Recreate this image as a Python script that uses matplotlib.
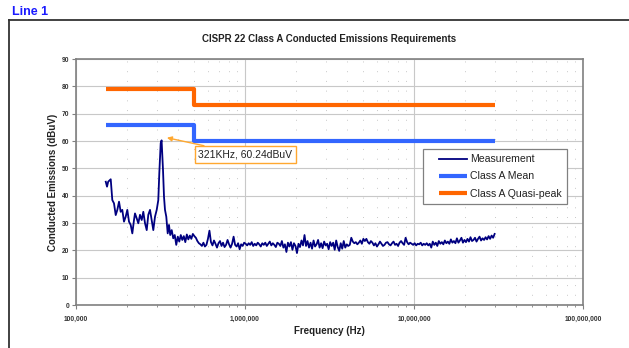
import matplotlib
matplotlib.use("Agg")
import matplotlib.pyplot as plt
import matplotlib.ticker as mticker
import matplotlib.lines as mlines
from matplotlib.legend_handler import HandlerLine2D
import numpy as np

plt.rcParams['font.family'] = ['Liberation Sans', 'DejaVu Sans']

# low band of the sweep (kHz, dBuV), around the 321 kHz peak
head_khz = [150, 152.6, 155, 160.5, 164, 167.8, 171.8, 175.6, 179.7, 183.8,
            187.9, 192.3, 196.8, 201.2, 205.9, 210.7, 215.4, 220.4, 223.4, 228.7,
            233.7, 239.2, 244.8, 250.2, 256.1, 262.1, 267.8, 274.1, 280.5, 286.7,
            293.4, 300.3, 306.9, 311.1, 317.1, 321, 327.2, 331.7, 336.2, 342.2,
            348.8, 355]
head_db = [45.1, 43.3, 45.1, 46.0, 38.4, 37.2, 32.9, 34.8, 37.8, 34.1,
           34.8, 30.5, 32.3, 34.8, 30.5, 29.3, 26.2, 31.1, 33.5, 31.7,
           29.9, 33.0, 31.1, 34.1, 29.9, 27.4, 33.0, 34.8, 31.1, 27.4,
           32.3, 34.8, 38.4, 48.2, 59.2, 60.24, 49.4, 39.6, 34.8, 32.3,
           26.2, 29.3]

# rest of the sweep, 361 kHz .. 30 MHz on a log grid
tail_start, tail_stop = 361e3, 30e6
tail_db = [
    25.6, 27.4, 24.4, 25.6, 22.0, 25.0, 23.2, 25.6, 23.8, 25.2,
    23.0, 25.8, 24.0, 25.4, 24.2, 26.0, 25.2, 24.6, 23.4, 22.6,
    22.2, 21.6, 22.8, 21.4, 22.0, 24.2, 27.2, 23.0, 21.8, 23.6,
    22.4, 21.0, 22.6, 23.4, 21.6, 22.8, 21.2, 22.0, 23.8, 22.2,
    21.0, 22.4, 25.0, 22.0, 21.4, 22.6, 20.4, 22.2, 21.6, 22.8,
    22.4, 21.8, 22.6, 22.0, 23.0, 21.6, 22.4, 21.8, 22.8, 22.2,
    21.4, 22.6, 22.0, 22.8, 21.6, 22.4, 23.2, 21.8, 22.6, 22.0,
    21.2, 22.8, 22.4, 21.6, 23.4, 21.0, 22.2, 19.4, 22.8, 21.4,
    23.0, 20.2, 22.6, 21.6, 19.0, 22.4, 21.2, 23.6, 21.8, 25.6,
    21.6, 23.4, 21.0, 22.8, 20.6, 23.6, 21.4, 22.2, 23.8, 21.0,
    22.6, 20.8, 23.2, 21.8, 22.4, 20.4, 23.0, 21.6, 22.8, 20.2,
    23.6, 21.2, 19.8, 22.6, 20.6, 23.4, 21.0, 22.2, 21.6, 22.0,
    24.6, 23.2, 22.6, 23.0, 22.2, 22.8, 23.6, 22.4, 24.2, 23.4,
    24.2, 23.0, 22.4, 23.4, 22.8, 21.8, 22.6, 21.4, 22.2, 23.2,
    22.4, 21.6, 22.0, 22.8, 23.0, 22.2, 21.8, 22.6, 23.2, 22.0,
    22.4, 21.6, 22.8, 23.4, 22.6, 22.0, 24.6, 23.0, 22.2, 22.8,
    22.4, 22.0, 22.6, 21.8, 22.4, 22.2, 22.8, 21.8, 22.4, 22.0,
    22.6, 21.8, 22.4, 21.0, 23.2, 22.0, 22.8, 21.6, 23.4, 22.4,
    23.0, 22.2, 23.6, 22.6, 23.2, 22.4, 24.0, 22.8, 23.4, 22.6,
    24.4, 22.8, 23.6, 24.6, 22.8, 23.8, 23.0, 24.2, 23.2, 24.8,
    23.4, 23.8, 24.6, 23.2, 24.2, 25.0, 23.6, 24.4, 23.8, 24.8,
    24.0, 25.2, 24.2, 25.4, 24.6, 26.0,
]

# CISPR 22 class A limits
limit_hz = [150e3, 500e3, 500e3, 30e6]
mean_limit = [66, 66, 60, 60]
qp_limit = [79, 79, 73, 73]

peak_hz, peak_db = 321e3, 60.24

meas_hz = np.concatenate([np.array(head_khz) * 1e3,
                          np.geomspace(tail_start, tail_stop, len(tail_db))])
meas_db = np.concatenate([head_db, tail_db])

fig = plt.figure(figsize=(6.29, 3.48), dpi=100)
fig.patch.set_facecolor('white')

# outer frame (top and left edges)
fig.add_artist(mlines.Line2D([9/629, 1.0], [1 - 20/348, 1 - 20/348],
                             transform=fig.transFigure, color='#333333', lw=1.3))
fig.add_artist(mlines.Line2D([9/629, 9/629], [1 - 20/348, 0.0],
                             transform=fig.transFigure, color='#333333', lw=1.3))
fig.text(12/629, 1 - 12/348, 'Line 1', color='#1a1aff', fontsize=9,
         fontweight='bold', ha='left', va='center')

ax = fig.add_axes([76/629, 43/348, 507/629, 246/348])

ax.plot(meas_hz, meas_db, color='#000080', lw=1.3, label='Measurement', zorder=3)
ax.plot(limit_hz, mean_limit, color='#3366ff', lw=3.0, label='Class A Mean',
        solid_capstyle='butt', zorder=2)
ax.plot(limit_hz, qp_limit, color='#ff6600', lw=3.0, label='Class A Quasi-peak',
        solid_capstyle='butt', zorder=2)

ax.set_xscale('log')
ax.set_xlim(1e5, 1e8)
ax.set_ylim(0, 90)
ax.set_yticks(range(0, 91, 10))
ax.xaxis.set_major_locator(mticker.LogLocator(base=10, numticks=5))
ax.xaxis.set_minor_locator(mticker.LogLocator(base=10, subs=range(2, 10), numticks=20))
ax.xaxis.set_major_formatter(mticker.FuncFormatter(lambda v, p: f'{v:,.0f}'))
ax.xaxis.set_minor_formatter(mticker.NullFormatter())

ax.grid(True, which='major', axis='both', color='#c8c8c8', lw=0.8)
ax.grid(True, which='minor', axis='x', color='#c8c8c8', lw=0.7, linestyle=(0, (1, 9)))
ax.set_axisbelow(True)

for s in ax.spines.values():
    s.set_color('#808080')
    s.set_linewidth(1.2)

ax.tick_params(axis='both', which='major', labelsize=4.8, labelcolor='#333333',
               color='#808080', length=3, width=0.8, direction='out', pad=2)
ax.tick_params(axis='x', which='minor', color='#808080', length=1.5, width=0.6)
ax.tick_params(axis='x', which='major', pad=5)
for lbl in ax.get_xticklabels() + ax.get_yticklabels():
    lbl.set_fontweight('bold')

ax.set_title('CISPR 22 Class A Conducted Emissions Requirements', fontsize=7,
             fontweight='bold', color='#222222', pad=12)
ax.set_xlabel('Frequency (Hz)', fontsize=7, fontweight='bold', color='#222222')
ax.set_ylabel('Conducted Emissions (dBuV)', fontsize=7, fontweight='bold', color='#222222')
ax.xaxis.set_label_coords(0.5, -0.085)
ax.yaxis.set_label_coords(-0.036, 0.5)

ax.annotate(f'{peak_hz / 1e3:.0f}KHz, {peak_db:.2f}dBuV',
            xy=(345e3, 61.2), xytext=(530e3, 55.0),
            fontsize=7.5, color='#222222', ha='left', va='center',
            bbox=dict(boxstyle='square,pad=0.33', fc='white', ec='#ffa830', lw=1.0),
            arrowprops=dict(arrowstyle='-|>', color='#ffa830', lw=1.0,
                            mutation_scale=7, shrinkA=0, shrinkB=0),
            zorder=5)

# legend lines start a little inside the box
leg = ax.legend(loc='upper left', bbox_to_anchor=(0.684, 0.634), fontsize=7.6,
                frameon=True, fancybox=False, framealpha=1, edgecolor='#808080',
                handlelength=3.7, borderpad=0.5, labelspacing=0.68, handletextpad=0.3,
                borderaxespad=0,
                handler_map={mlines.Line2D: HandlerLine2D(xpad=1.0)})
leg.get_frame().set_linewidth(0.9)
for t in leg.get_texts():
    t.set_color('#222222')

fig.savefig('out.png', dpi=100)
